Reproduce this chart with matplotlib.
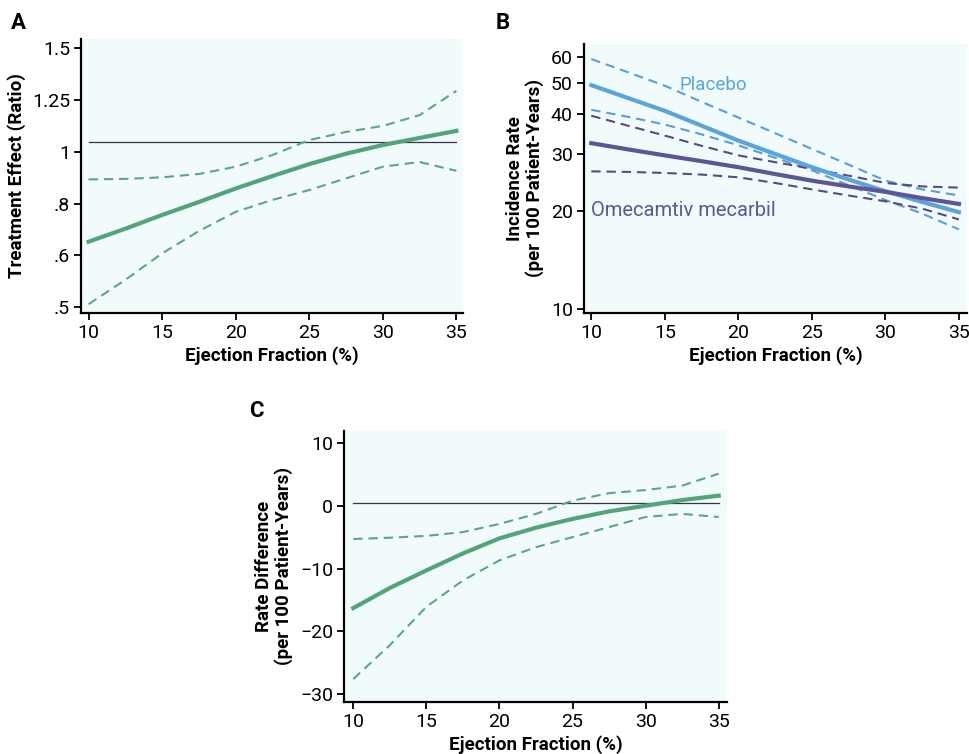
import numpy as np
import matplotlib
matplotlib.use("Agg")
import matplotlib.pyplot as plt

plt.rcParams['font.family'] = ['Roboto', 'DejaVu Sans']

# Ejection fraction grid (%)
ef = [10, 12.5, 15, 17.5, 20, 22.5, 25, 27.5, 30, 32.5, 35]

# Panel A: treatment effect (ratio)
a_est = [0.653, 0.703, 0.756, 0.806, 0.858, 0.906, 0.952, 0.992, 1.032, 1.066, 1.100]
a_upper = [0.893, 0.895, 0.901, 0.914, 0.942, 0.987, 1.056, 1.095, 1.124, 1.176, 1.293]
a_lower = [0.506, 0.553, 0.608, 0.694, 0.768, 0.814, 0.852, 0.897, 0.942, 0.960, 0.926]
a_ref = 1.045
a_ticks = [0.5, 0.6, 0.8, 1.0, 1.25, 1.5]
a_ticklabels = [".5", ".6", ".8", "1", "1.25", "1.5"]

# Panel B: incidence rate per 100 patient-years
plac_est = [49.1, 44.8, 40.9, 36.8, 33.1, 30.1, 27.4, 25.1, 23.1, 21.4, 19.9]
plac_upper = [59.1, 53.8, 48.9, 43.6, 39.0, 34.9, 31.2, 27.9, 24.9, 23.4, 22.4]
plac_lower = [41.2, 39.2, 37.1, 34.6, 32.0, 29.3, 26.8, 24.1, 21.7, 19.7, 17.6]
om_est = [32.5, 31.1, 29.8, 28.6, 27.4, 26.1, 24.9, 23.9, 23.0, 22.0, 21.1]
om_upper = [39.5, 36.8, 34.3, 31.9, 29.8, 28.4, 27.1, 25.8, 24.5, 23.9, 23.7]
om_lower = [26.6, 26.5, 26.3, 26.0, 25.5, 24.5, 23.4, 22.4, 21.5, 20.4, 18.9]
b_ticks = [10, 20, 30, 40, 50, 60]

# Panel C: rate difference per 100 patient-years
c_est = [-16.3, -13.1, -10.3, -7.6, -5.2, -3.5, -2.1, -0.9, 0.0, 0.9, 1.6]
c_upper = [-5.3, -5.1, -4.8, -4.2, -2.9, -1.3, 0.8, 2.0, 2.5, 3.2, 5.1]
c_lower = [-27.6, -22.2, -16.1, -11.9, -8.7, -6.6, -5.0, -3.4, -1.8, -1.3, -1.8]
c_ref = 0.4
c_ticks = [-30, -20, -10, 0, 10]

x_ticks = [10, 15, 20, 25, 30, 35]

green = "#52a577"
green_d = "#5aa880"
blue = "#5aa4da"
blue_d = "#5b9fd2"
purple = "#5e5597"
purple_d = "#554c82"
bg = "#f2fbfb"

# panel A's ratio axis has equally spaced ticks
ext_vals = [0.4] + a_ticks + [1.75]
ext_pos = list(range(-1, len(a_ticks) + 1))


def fwd(v):
    return np.interp(np.asarray(v, dtype=float), ext_vals, ext_pos)


def inv(p):
    return np.interp(np.asarray(p, dtype=float), ext_pos, ext_vals)


fig = plt.figure(figsize=(9.7, 7.54), dpi=100)
axA = fig.add_axes([0.0838, 0.5849, 0.3935, 0.3633])
axB = fig.add_axes([0.602, 0.5849, 0.3948, 0.3568])
axC = fig.add_axes([0.355, 0.0686, 0.3942, 0.3602])

lab_font = dict(fontsize=13.5, fontweight="bold")
dash = (4.5, 2.8)
w_solid = 3.0
w_dash = 1.5

for ax in (axA, axB, axC):
    ax.set_facecolor(bg)
    for s in ("top", "right"):
        ax.spines[s].set_visible(False)
    for s in ("left", "bottom"):
        ax.spines[s].set_linewidth(1.6)
    ax.tick_params(direction="out", length=5, width=1.3, labelsize=14, pad=3)
    ax.set_xlim(9.5, 35.45)
    ax.set_xticks(x_ticks)
    ax.set_xlabel("Ejection Fraction (%)", labelpad=3, **lab_font)

# A
axA.set_yscale("function", functions=(fwd, inv))
axA.set_ylim(0.489, 1.5425)
axA.set_yticks(a_ticks)
axA.set_yticklabels(a_ticklabels)
axA.minorticks_off()
axA.axhline(a_ref, xmin=(10 - 9.5) / 25.95, xmax=(35 - 9.5) / 25.95, color="#333344", lw=0.9)
axA.plot(ef, a_est, color=green, lw=w_solid)
axA.plot(ef, a_upper, color=green_d, lw=w_dash, dashes=dash)
axA.plot(ef, a_lower, color=green_d, lw=w_dash, dashes=dash)
axA.set_ylabel("Treatment Effect (Ratio)", labelpad=4, **lab_font)

# B
axB.set_yscale("log")
axB.set_ylim(9.72, 65.8)
axB.set_xlim(9.5, 35.54)
axB.set_yticks(b_ticks)
axB.set_yticklabels([str(t) for t in b_ticks])
axB.minorticks_off()
axB.plot(ef, plac_upper, color=blue_d, lw=w_dash, dashes=dash)
axB.plot(ef, plac_lower, color=blue_d, lw=w_dash, dashes=dash)
axB.plot(ef, om_upper, color=purple_d, lw=w_dash, dashes=dash)
axB.plot(ef, om_lower, color=purple_d, lw=w_dash, dashes=dash)
axB.plot(ef, plac_est, color=blue, lw=w_solid)
axB.plot(ef, om_est, color=purple, lw=w_solid)
axB.text(16.0, 49.0, "Placebo", color=blue, fontsize=13.5, va="center", ha="left")
axB.text(10.0, 20.1, "Omecamtiv mecarbil", color=purple, fontsize=14.5, va="center", ha="left")
axB.set_ylabel("Incidence Rate\n(per 100 Patient-Years)", labelpad=5, linespacing=1.1, **lab_font)

# C
axC.set_ylim(-31.3, 11.95)
axC.set_xlim(9.39, 35.55)
axC.set_yticks(c_ticks)
axC.set_yticklabels(["\u221230", "\u221220", "\u221210", "0", "10"])
axC.axhline(c_ref, xmin=(10 - 9.39) / 26.16, xmax=(35 - 9.39) / 26.16, color="#333344", lw=0.9)
axC.plot(ef, c_est, color=green, lw=w_solid)
axC.plot(ef, c_upper, color=green_d, lw=w_dash, dashes=dash)
axC.plot(ef, c_lower, color=green_d, lw=w_dash, dashes=dash)
axC.set_ylabel("Rate Difference\n(per 100 Patient-Years)", labelpad=5, linespacing=1.1, **lab_font)

fig.text(0.011, 0.97, "A", fontsize=16, fontweight="bold", va="center")
fig.text(0.511, 0.97, "B", fontsize=16, fontweight="bold", va="center")
fig.text(0.257, 0.455, "C", fontsize=16, fontweight="bold", va="center")

fig.savefig("out.png", dpi=100)
